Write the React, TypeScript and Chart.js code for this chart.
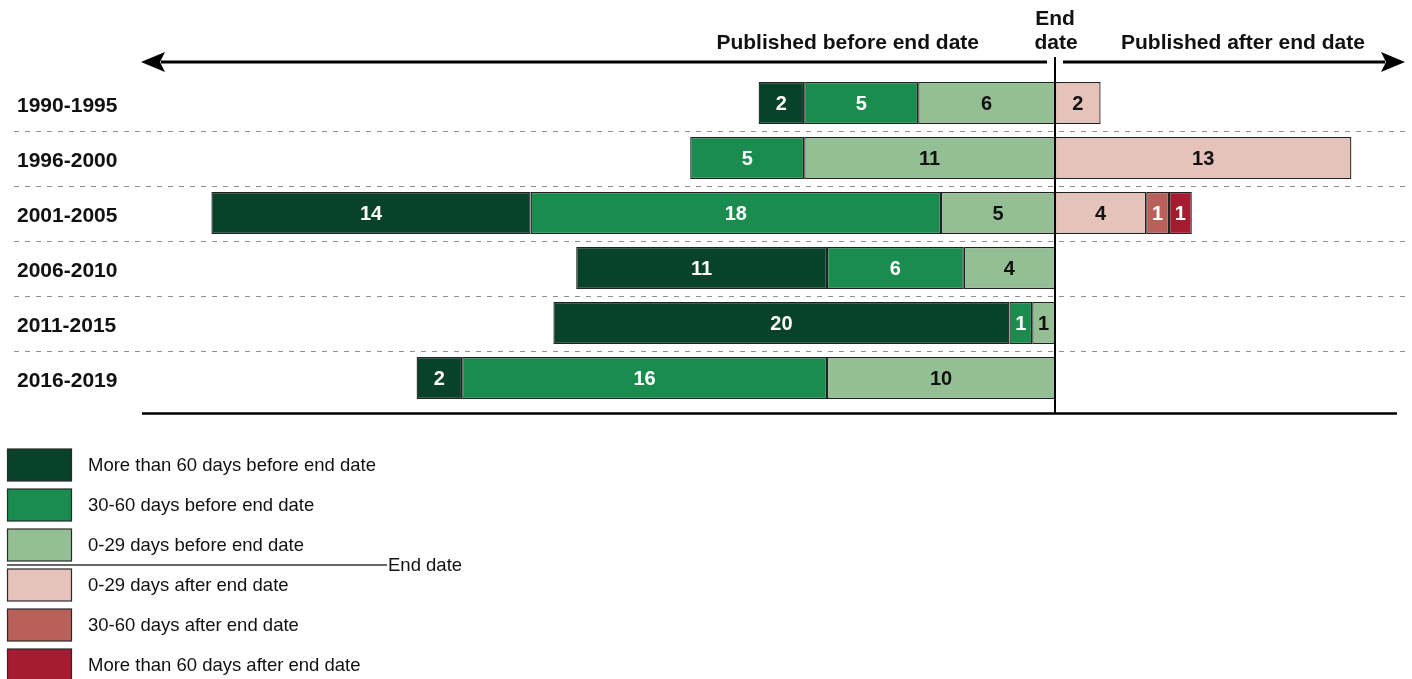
import { useEffect, useRef } from "react";
import { Chart, registerables } from "chart.js";

Chart.register(...registerables);

const FONT = "'Liberation Sans', Arial, Helvetica, sans-serif";

const periods = ["1990-1995", "1996-2000", "2001-2005", "2006-2010", "2011-2015", "2016-2019"];

// counts of publications, by timing relative to the end date
const moreThan60Before = [2, null, 14, 11, 20, 2];
const days30to60Before = [5, 5, 18, 6, 1, 16];
const days0to29Before = [6, 11, 5, 4, 1, 10];
const days0to29After = [2, 13, 4, null, null, null];
const days30to60After = [null, null, 1, null, null, null];
const moreThan60After = [null, null, 1, null, null, null];

const xMin = -40;
const xMax = 15;

const seriesNames = [
  "0-29 days before end date",
  "30-60 days before end date",
  "More than 60 days before end date",
  "0-29 days after end date",
  "30-60 days after end date",
  "More than 60 days after end date",
];
const legendOrder = [2, 1, 0, 3, 4, 5];
const colors = ["#94be94", "#1a8c4e", "#08422a", "#e5c2ba", "#b9605a", "#a51b30"];
const labelColors = ["#111", "#fff", "#fff", "#111", "#fff", "#fff"];

const neg = (arr: (number | null)[]) => arr.map((v) => (v == null ? null : -v));

const decorPlugin = {
  id: "decor",
  beforeDatasetsDraw(chart: any) {
    const { ctx } = chart;
    const y = chart.scales.y;
    ctx.save();
    ctx.strokeStyle = "#909090";
    ctx.lineWidth = 1;
    ctx.setLineDash([5, 6]);
    for (let i = 0; i < periods.length - 1; i++) {
      const yy = Math.round((y.getPixelForTick(i) + y.getPixelForTick(i + 1)) / 2) + 0.5;
      ctx.beginPath();
      ctx.moveTo(14, yy);
      ctx.lineTo(1406, yy);
      ctx.stroke();
    }
    ctx.restore();
  },
  afterDatasetsDraw(chart: any) {
    const { ctx, chartArea } = chart;
    const xs = chart.scales.x;
    ctx.save();
    // value labels
    ctx.font = `bold 20px ${FONT}`;
    ctx.textAlign = "center";
    ctx.textBaseline = "middle";
    chart.data.datasets.forEach((ds: any, i: number) => {
      const meta = chart.getDatasetMeta(i);
      meta.data.forEach((el: any, j: number) => {
        const v = ds.data[j];
        if (v == null) return;
        const p = el.getProps(["x", "base", "y"], true);
        ctx.fillStyle = labelColors[i];
        ctx.fillText(String(Math.abs(v)), (p.x + p.base) / 2, p.y + 1);
      });
    });

    const x0 = xs.getPixelForValue(0);
    const left = chartArea.left;
    const right = chartArea.right;
    const arrowY = chartArea.top - 13.5;
    const bottomY = chartArea.bottom + 8;

    ctx.strokeStyle = "#000";
    ctx.fillStyle = "#000";
    // end date vertical line
    ctx.lineWidth = 2;
    ctx.beginPath();
    ctx.moveTo(x0, arrowY - 5);
    ctx.lineTo(x0, bottomY);
    ctx.stroke();
    // bottom axis line
    ctx.lineWidth = 2.5;
    ctx.beginPath();
    ctx.moveTo(left - 1, bottomY);
    ctx.lineTo(right, bottomY);
    ctx.stroke();
    // arrows
    ctx.lineWidth = 3;
    ctx.beginPath();
    ctx.moveTo(left + 18, arrowY);
    ctx.lineTo(x0 - 8, arrowY);
    ctx.stroke();
    ctx.beginPath();
    ctx.moveTo(x0 + 8, arrowY);
    ctx.lineTo(right - 12, arrowY);
    ctx.stroke();
    const tipL = left - 2;
    ctx.beginPath();
    ctx.moveTo(tipL, arrowY);
    ctx.lineTo(tipL + 24, arrowY - 10);
    ctx.lineTo(tipL + 19, arrowY);
    ctx.lineTo(tipL + 24, arrowY + 10);
    ctx.closePath();
    ctx.fill();
    const tipR = right + 8;
    ctx.beginPath();
    ctx.moveTo(tipR, arrowY);
    ctx.lineTo(tipR - 24, arrowY - 10);
    ctx.lineTo(tipR - 19, arrowY);
    ctx.lineTo(tipR - 24, arrowY + 10);
    ctx.closePath();
    ctx.fill();

    // headings
    ctx.font = `bold 21px ${FONT}`;
    ctx.textBaseline = "alphabetic";
    ctx.fillStyle = "#111";
    ctx.textAlign = "right";
    ctx.fillText("Published before end date", x0 - 76, arrowY - 13);
    ctx.textAlign = "left";
    ctx.fillText("Published after end date", x0 + 66, arrowY - 13);
    ctx.textAlign = "center";
    ctx.fillText("End", x0, arrowY - 37);
    ctx.fillText("date", x0 + 1, arrowY - 13);

    // legend
    const lx = 7.5;
    const ly = 449;
    ctx.textAlign = "left";
    ctx.textBaseline = "middle";
    ctx.font = `18.5px ${FONT}`;
    legendOrder.forEach((di, k) => {
      const top = ly + 40 * k;
      ctx.fillStyle = colors[di];
      ctx.fillRect(lx, top, 64, 32);
      ctx.strokeStyle = "#2a2a2a";
      ctx.lineWidth = 1.2;
      ctx.strokeRect(lx, top, 64, 32);
      ctx.fillStyle = "#111";
      ctx.fillText(seriesNames[di], 88, top + 17);
    });
    // end date divider in legend
    ctx.strokeStyle = "#333";
    ctx.lineWidth = 1.5;
    ctx.beginPath();
    ctx.moveTo(7, 565);
    ctx.lineTo(387, 565);
    ctx.stroke();
    ctx.fillStyle = "#111";
    ctx.fillText("End date", 388, 566);
    ctx.restore();
  },
};

export default function App() {
  const ref = useRef<HTMLCanvasElement>(null);

  useEffect(() => {
    if (!ref.current) return;
    const seriesData = [
      neg(days0to29Before),
      neg(days30to60Before),
      neg(moreThan60Before),
      days0to29After,
      days30to60After,
      moreThan60After,
    ];
    const chart = new Chart(ref.current, {
      type: "bar",
      data: {
        labels: periods,
        datasets: seriesData.map((d, i) => ({
          label: seriesNames[i],
          data: d,
          backgroundColor: colors[i],
          borderColor: "#222",
          borderWidth: 1.3,
          borderSkipped: false,
          barPercentage: 1,
          categoryPercentage: 42 / 55,
        })),
      },
      options: {
        indexAxis: "y",
        animation: false,
        responsive: false,
        devicePixelRatio: 1,
        layout: { padding: { left: 17, top: 75.5, right: 15, bottom: 273.5 } },
        plugins: {
          legend: { display: false },
          tooltip: { enabled: false },
          title: { display: false },
        },
        scales: {
          x: { display: false, stacked: true, min: xMin, max: xMax },
          y: {
            stacked: true,
            grid: { display: false, drawTicks: false },
            border: { display: false },
            ticks: {
              crossAlign: "far",
              padding: 0,
              labelOffset: 3,
              color: "#111",
              font: { family: FONT, size: 21, weight: "bold" },
            },
            afterFit: (s: any) => {
              s.width = 126;
            },
          },
        },
      } as any,
      plugins: [decorPlugin],
    });
    return () => chart.destroy();
  }, []);

  return (
    <div style={{ position: "fixed", left: 0, top: 0, width: 1412, height: 679, background: "#fff" }}>
      <canvas ref={ref} width={1412} height={679} style={{ display: "block" }} />
    </div>
  );
}
